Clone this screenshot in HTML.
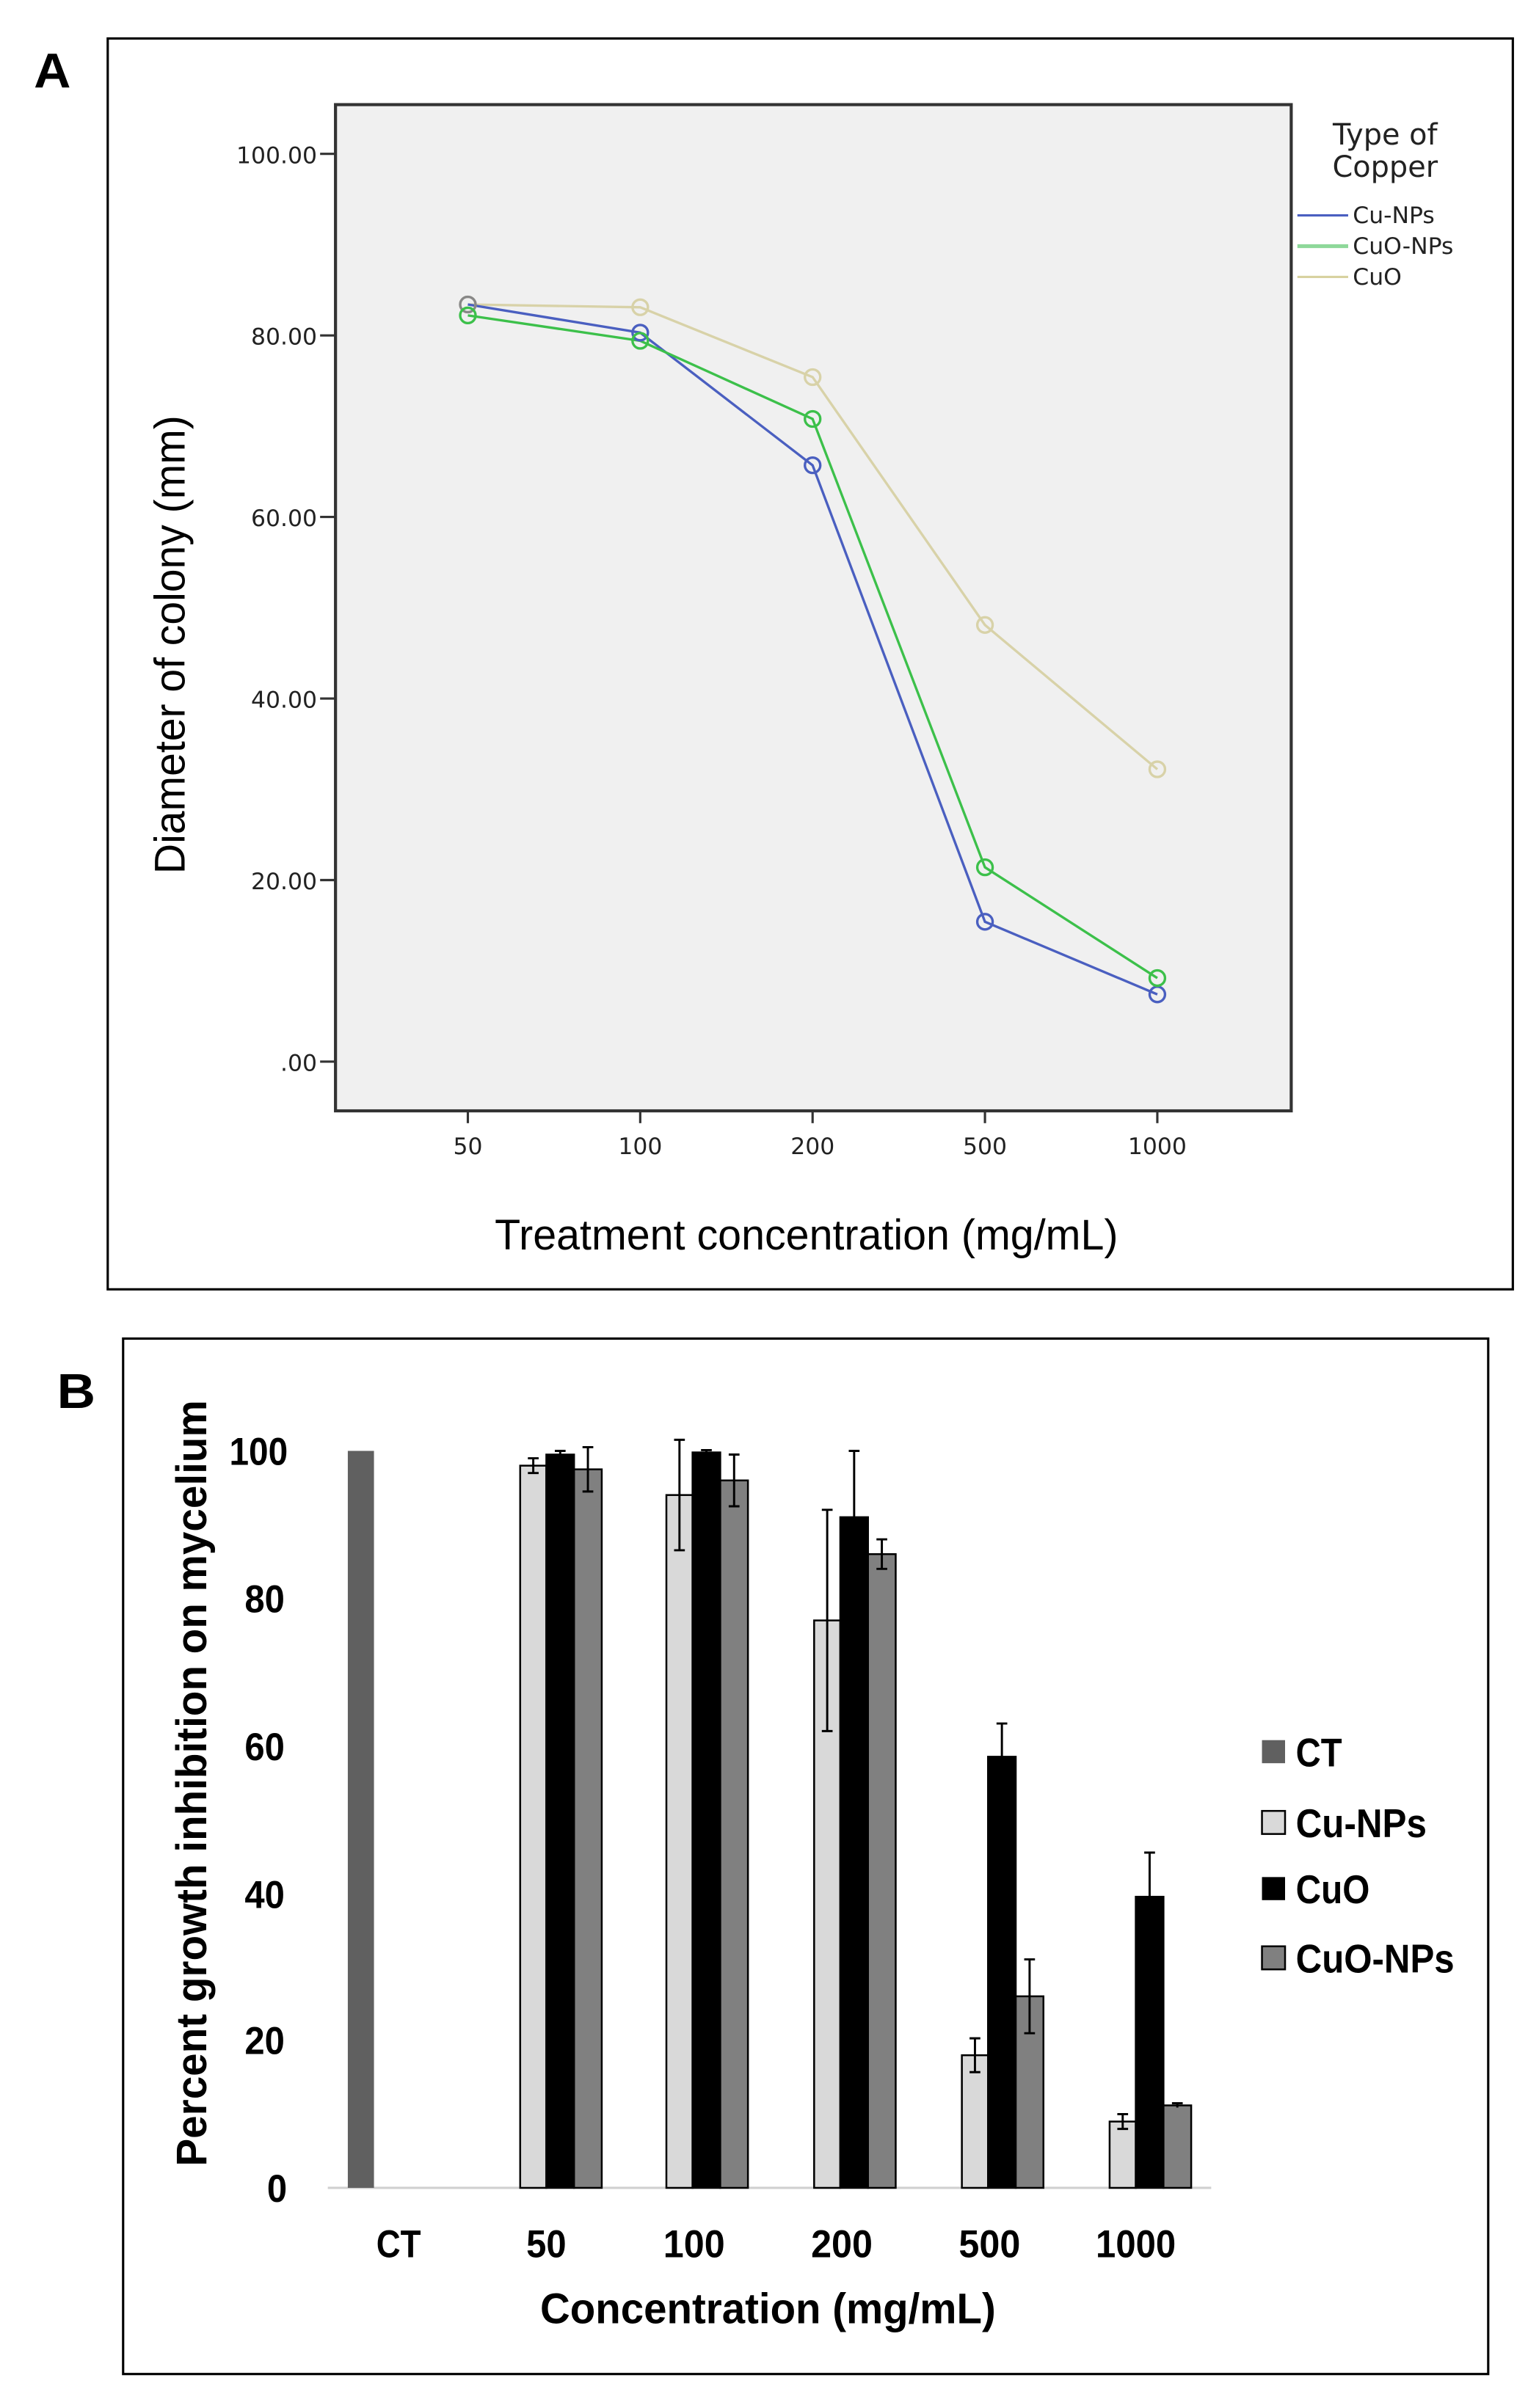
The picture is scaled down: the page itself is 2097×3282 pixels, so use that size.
<!DOCTYPE html>
<html><head><meta charset="utf-8"><style>html,body{margin:0;padding:0;background:#fff}svg{display:block}</style></head>
<body>
<svg width="2097" height="3282" viewBox="0 0 1000 1565.08" preserveAspectRatio="none" xmlns="http://www.w3.org/2000/svg">
<rect width="1000" height="1566" fill="#fff"/>
<!-- Panel A -->
<text x="22" y="57" font-family="Liberation Sans, sans-serif" font-weight="bold" font-size="32" textLength="24" lengthAdjust="spacingAndGlyphs">A</text>
<rect x="70" y="25" width="913" height="813" fill="none" stroke="#000" stroke-width="1.5"/>
<rect x="218" y="68" width="621" height="654" fill="#f0f0f0" stroke="#333" stroke-width="2"/>
<g stroke="#333" stroke-width="1.5">
<line x1="208" y1="100" x2="218" y2="100"/><line x1="208" y1="218" x2="218" y2="218"/><line x1="208" y1="336" x2="218" y2="336"/><line x1="208" y1="454" x2="218" y2="454"/><line x1="208" y1="572" x2="218" y2="572"/><line x1="208" y1="690" x2="218" y2="690"/>
<line x1="304" y1="722" x2="304" y2="730"/><line x1="416" y1="722" x2="416" y2="730"/><line x1="528" y1="722" x2="528" y2="730"/><line x1="640" y1="722" x2="640" y2="730"/><line x1="752" y1="722" x2="752" y2="730"/>
</g>
<g font-family="DejaVu Sans, sans-serif" font-size="15" fill="#222" text-anchor="end">
<text x="206" y="106">100.00</text><text x="206" y="224">80.00</text><text x="206" y="342">60.00</text><text x="206" y="460">40.00</text><text x="206" y="578">20.00</text><text x="206" y="696">.00</text>
</g>
<g font-family="DejaVu Sans, sans-serif" font-size="15" fill="#222" text-anchor="middle">
<text x="304" y="750">50</text><text x="416" y="750">100</text><text x="528" y="750">200</text><text x="640" y="750">500</text><text x="752" y="750">1000</text>
</g>
<text x="524" y="812" font-family="Liberation Sans, sans-serif" font-size="28" text-anchor="middle" textLength="405" lengthAdjust="spacingAndGlyphs">Treatment concentration (mg/mL)</text>
<text transform="translate(120,419) rotate(-90)" font-family="Liberation Sans, sans-serif" font-size="28" text-anchor="middle" textLength="298" lengthAdjust="spacingAndGlyphs">Diameter of colony (mm)</text>
<g fill="none" stroke-width="1.6">
<polyline stroke="#d8d2a8" points="304,197.9 416,199.7 528,245.1 640,406.2 752,500"/>
<polyline stroke="#4a5fc0" points="304,197.9 416,216.2 528,302.4 640,599.1 752,646.3"/>
<polyline stroke="#3cc04a" points="304,205 416,221.5 528,272.3 640,563.7 752,635.7"/>
<g stroke="#d8d2a8"><circle cx="304" cy="197.9" r="5"/><circle cx="416" cy="199.7" r="5"/><circle cx="528" cy="245.1" r="5"/><circle cx="640" cy="406.2" r="5"/><circle cx="752" cy="500" r="5"/></g>
<g stroke="#4a5fc0"><circle cx="304" cy="197.9" r="5" stroke="#888"/><circle cx="416" cy="216.2" r="5"/><circle cx="528" cy="302.4" r="5"/><circle cx="640" cy="599.1" r="5"/><circle cx="752" cy="646.3" r="5"/></g>
<g stroke="#3cc04a"><circle cx="304" cy="205" r="5"/><circle cx="416" cy="221.5" r="5"/><circle cx="528" cy="272.3" r="5"/><circle cx="640" cy="563.7" r="5"/><circle cx="752" cy="635.7" r="5"/></g>
</g>
<g font-family="DejaVu Sans, sans-serif" fill="#222">
<text x="900" y="94" font-size="19" text-anchor="middle">Type of</text>
<text x="900" y="115" font-size="19" text-anchor="middle">Copper</text>
<text x="879" y="145" font-size="15">Cu-NPs</text>
<text x="879" y="165" font-size="15">CuO-NPs</text>
<text x="879" y="185" font-size="15">CuO</text>
</g>
<line x1="843" y1="140" x2="876" y2="140" stroke="#4a5fc0" stroke-width="1.5"/>
<line x1="843" y1="160" x2="876" y2="160" stroke="#8ed89a" stroke-width="2.5"/>
<line x1="843" y1="180" x2="876" y2="180" stroke="#d8d2a0" stroke-width="1.5"/>
<!-- Panel B -->
<text x="37" y="915" font-family="Liberation Sans, sans-serif" font-weight="bold" font-size="32" textLength="25" lengthAdjust="spacingAndGlyphs">B</text>
<rect x="80" y="870" width="887" height="673" fill="none" stroke="#000" stroke-width="1.5"/>
<line x1="213" y1="1422" x2="787" y2="1422" stroke="#d0d0d0" stroke-width="1.5"/>
<g font-family="Liberation Sans, sans-serif" font-weight="bold" font-size="25" fill="#000" text-anchor="middle">
<text x="168" y="952" textLength="38" lengthAdjust="spacingAndGlyphs">100</text>
<text x="172" y="1048" textLength="26" lengthAdjust="spacingAndGlyphs">80</text>
<text x="172" y="1144" textLength="26" lengthAdjust="spacingAndGlyphs">60</text>
<text x="172" y="1240" textLength="26" lengthAdjust="spacingAndGlyphs">40</text>
<text x="172" y="1335" textLength="26" lengthAdjust="spacingAndGlyphs">20</text>
<text x="180" y="1431" textLength="13" lengthAdjust="spacingAndGlyphs">0</text>
<text x="259" y="1467" textLength="29" lengthAdjust="spacingAndGlyphs">CT</text>
<text x="355" y="1467" textLength="26" lengthAdjust="spacingAndGlyphs">50</text>
<text x="451" y="1467" textLength="40" lengthAdjust="spacingAndGlyphs">100</text>
<text x="547" y="1467" textLength="40" lengthAdjust="spacingAndGlyphs">200</text>
<text x="643" y="1467" textLength="40" lengthAdjust="spacingAndGlyphs">500</text>
<text x="738" y="1467" textLength="52" lengthAdjust="spacingAndGlyphs">1000</text>
</g>
<text x="499" y="1510" font-family="Liberation Sans, sans-serif" font-weight="bold" font-size="28" text-anchor="middle" textLength="296" lengthAdjust="spacingAndGlyphs">Concentration (mg/mL)</text>
<text transform="translate(134,1159) rotate(-90)" font-family="Liberation Sans, sans-serif" font-weight="bold" font-size="28" text-anchor="middle" textLength="498" lengthAdjust="spacingAndGlyphs">Percent growth inhibition on mycelium</text>
<rect x="226" y="943" width="17" height="479" fill="#606060"/>
<g stroke="#000" stroke-width="1.2">
<!-- 50 -->
<rect x="338" y="952.6" width="17" height="469.4" fill="#d9d9d9"/><rect x="355" y="945.4" width="18" height="476.6" fill="#000"/><rect x="373" y="955" width="18" height="467" fill="#808080"/>
<!-- 100 -->
<rect x="433" y="971.7" width="17" height="450.3" fill="#d9d9d9"/><rect x="450" y="944" width="18" height="478" fill="#000"/><rect x="468" y="962.2" width="18" height="459.8" fill="#808080"/>
<!-- 200 -->
<rect x="529" y="1053.2" width="17" height="368.8" fill="#d9d9d9"/><rect x="546" y="986.1" width="18" height="435.9" fill="#000"/><rect x="564" y="1010.1" width="18" height="411.9" fill="#808080"/>
<!-- 500 -->
<rect x="625" y="1335.8" width="17" height="86.2" fill="#d9d9d9"/><rect x="642" y="1141.8" width="18" height="280.2" fill="#000"/><rect x="660" y="1297.5" width="18" height="124.5" fill="#808080"/>
<!-- 1000 -->
<rect x="721" y="1378.9" width="17" height="43.1" fill="#d9d9d9"/><rect x="738" y="1232.8" width="18" height="189.2" fill="#000"/><rect x="756" y="1368.4" width="18" height="53.6" fill="#808080"/>
</g>
<g stroke="#000" stroke-width="1.4" fill="none">
<path d="M346.5,947.8V957.4M343,947.8H350M343,957.4H350"/>
<path d="M364,943V947.8M360.5,943H367.5"/>
<path d="M382,940.6V969.4M378.5,940.6H385.5M378.5,969.4H385.5"/>
<path d="M441.5,935.8V1007.6M438,935.8H445M438,1007.6H445"/>
<path d="M459,942.5V945.5M455.5,942.5H462.5"/>
<path d="M477,945.4V979M473.5,945.4H480.5M473.5,979H480.5"/>
<path d="M537.5,981.3V1125.1M534,981.3H541M534,1125.1H541"/>
<path d="M555,943V1029.2M551.5,943H558.5"/>
<path d="M573,1000.5V1019.7M569.5,1000.5H576.5M569.5,1019.7H576.5"/>
<path d="M633.5,1324.8V1346.8M630,1324.8H637M630,1346.8H637"/>
<path d="M651,1120.2V1163.4M647.5,1120.2H654.5"/>
<path d="M669,1273.5V1321.5M665.5,1273.5H672.5M665.5,1321.5H672.5"/>
<path d="M729.5,1374.1V1383.7M726,1374.1H733M726,1383.7H733"/>
<path d="M747,1204.1V1261.5M743.5,1204.1H750.5"/>
<path d="M765,1367V1369.8M761.5,1367H768.5"/>
</g>
<rect x="820" y="1131" width="15" height="15" fill="#606060"/>
<rect x="820" y="1177" width="15" height="15" fill="#d9d9d9" stroke="#000" stroke-width="1.2"/>
<rect x="820" y="1220" width="15" height="15" fill="#000"/>
<rect x="820" y="1265" width="15" height="15" fill="#808080" stroke="#000" stroke-width="1.2"/>
<g font-family="Liberation Sans, sans-serif" font-weight="bold" font-size="26" fill="#000">
<text x="842" y="1148" textLength="30" lengthAdjust="spacingAndGlyphs">CT</text>
<text x="842" y="1194" textLength="85" lengthAdjust="spacingAndGlyphs">Cu-NPs</text>
<text x="842" y="1237" textLength="48" lengthAdjust="spacingAndGlyphs">CuO</text>
<text x="842" y="1282" textLength="103" lengthAdjust="spacingAndGlyphs">CuO-NPs</text>
</g>
</svg>
</body></html>
